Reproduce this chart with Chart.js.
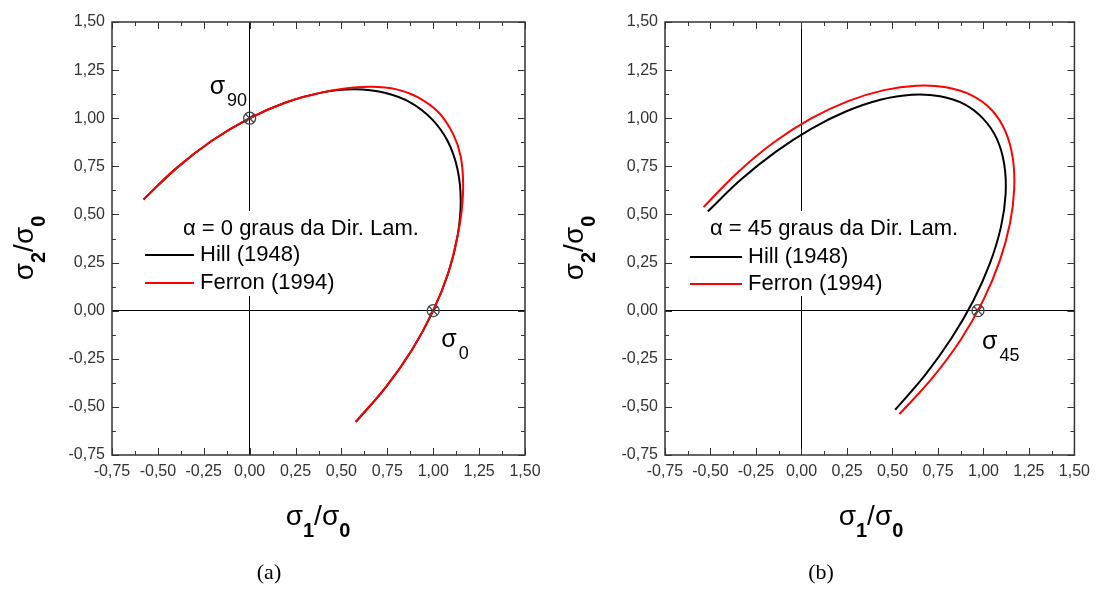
<!DOCTYPE html>
<html lang="pt">
<head>
    <meta charset="UTF-8">
    <title>Superfícies de escoamento - Hill x Ferron</title>
    <script src="https://cdn.jsdelivr.net/npm/chart.js@4.4.0/dist/chart.umd.min.js"></script>
    <style>
        body { margin: 0; background: #fff; }
        .panel { position: absolute; top: 0; }
    </style>
</head>
<body>
    <div class="panel" style="left:0px"><canvas id="chartA" width="549" height="589"></canvas></div>
    <div class="panel" style="left:549px"><canvas id="chartB" width="548" height="589"></canvas></div>

    <script>
        // eixos (mesma escala nos dois graficos)
        const tickValues = [-0.75, -0.5, -0.25, 0, 0.25, 0.5, 0.75, 1, 1.25, 1.5];
        const tickLabels = ['-0,75', '-0,50', '-0,25', '0,00', '0,25', '0,50', '0,75', '1,00', '1,25', '1,50'];

        const seriesNames = ['Hill (1948)', 'Ferron (1994)'];

        // (a) alpha = 0
        const hill0X = [-0.578, -0.397, -0.204, -0.004, 0.196, 0.390, 0.572, 0.736, 0.879, 0.994, 1.080, 1.132, 1.150, 1.133, 1.082, 0.998, 0.884, 0.742, 0.578];
        const hill0Y = [0.578, 0.742, 0.884, 0.998, 1.082, 1.133, 1.150, 1.132, 1.080, 0.994, 0.879, 0.736, 0.572, 0.390, 0.196, -0.004, -0.204, -0.397, -0.578];
        const ferron0X = [-0.578, -0.397, -0.204, -0.004, 0.196, 0.390, 0.520, 0.660, 0.800, 0.915, 1.030, 1.110, 1.150, 1.163, 1.155, 1.133, 1.082, 0.998, 0.884, 0.742, 0.578];
        const ferron0Y = [0.578, 0.742, 0.884, 0.998, 1.082, 1.133, 1.155, 1.163, 1.150, 1.110, 1.030, 0.915, 0.800, 0.660, 0.520, 0.390, 0.196, -0.004, -0.204, -0.397, -0.578];
        const marks0X = [0, 1];
        const marks0Y = [1, 0];

        // (b) alpha = 45
        const hill45X = [-0.515, -0.334, -0.142, 0.053, 0.247, 0.434, 0.607, 0.762, 0.894, 0.998, 1.073, 1.114, 1.122, 1.096, 1.036, 0.945, 0.825, 0.680, 0.515];
        const hill45Y = [0.515, 0.680, 0.825, 0.945, 1.036, 1.096, 1.122, 1.114, 1.073, 0.998, 0.894, 0.762, 0.607, 0.434, 0.247, 0.053, -0.142, -0.334, -0.515];
        const ferron45X = [-0.538, -0.352, -0.151, 0.056, 0.260, 0.454, 0.632, 0.794, 0.933, 1.044, 1.120, 1.161, 1.169, 1.146, 1.090, 1.000, 0.875, 0.717, 0.538];
        const ferron45Y = [0.538, 0.717, 0.875, 1.000, 1.090, 1.146, 1.169, 1.161, 1.120, 1.044, 0.933, 0.794, 0.632, 0.454, 0.260, 0.056, -0.151, -0.352, -0.538];
        const marks45X = [0.97];
        const marks45Y = [0];

        const ff = '"Liberation Sans", Arial, sans-serif';
        Chart.defaults.font.family = ff;

        const pts = (xs, ys) => xs.map((v, i) => ({x: v, y: ys[i]}));

        function partsWidth(ctx, parts) {
            let w = 0;
            parts.forEach(p => { ctx.font = p[1]; w += ctx.measureText(p[0]).width + (p[3] || 0); });
            return w;
        }
        function drawParts(ctx, x, y, parts) {
            let cx = x;
            parts.forEach(p => {
                ctx.font = p[1];
                ctx.fillText(p[0], cx, y + p[2]);
                cx += ctx.measureText(p[0]).width + (p[3] || 0);
            });
        }
        const sigmaRatio = (a, b) => [
            ['σ', '28px ' + ff, 0], [a, 'bold 20px ' + ff, 12],
            ['/', '28px ' + ff, 0],
            ['σ', '28px ' + ff, 0], [b, 'bold 20px ' + ff, 12]
        ];

        const decor = {
            id: 'decor',
            beforeDatasetsDraw(chart, args, o) {
                const ctx = chart.ctx;
                const lg = o.legend;
                ctx.save();
                ctx.fillStyle = '#fff';
                ctx.fillRect(lg.box[0], lg.box[1], lg.box[2], lg.box[3]);
                ctx.fillStyle = '#000';
                ctx.textBaseline = 'middle';
                ctx.font = '22px ' + ff;
                ctx.fillText(lg.title, lg.titleX, lg.titleY);
                [0, 1].forEach(row => {
                    const ds = chart.data.datasets[row];
                    const yy = lg.rows[row];
                    ctx.strokeStyle = ds.borderColor;
                    ctx.lineWidth = 2;
                    ctx.beginPath();
                    ctx.moveTo(lg.line[0], yy);
                    ctx.lineTo(lg.line[1], yy);
                    ctx.stroke();
                    ctx.fillText(ds.label, lg.textX, yy);
                });
                ctx.restore();
            },
            afterDraw(chart, args, o) {
                const {ctx, chartArea: a, scales: {x, y}} = chart;
                ctx.save();
                // moldura
                ctx.strokeStyle = '#333';
                ctx.lineWidth = 1.5;
                ctx.strokeRect(a.left, a.top, a.right - a.left, a.bottom - a.top);
                // tracos para dentro
                const minor = tickValues.slice(0, -1).map((v, i) => (v + tickValues[i + 1]) / 2);
                ctx.lineWidth = 1;
                ctx.beginPath();
                const marks = (vals, len) => vals.forEach(v => {
                    const px = Math.round(x.getPixelForValue(v)) + 0.5;
                    const py = Math.round(y.getPixelForValue(v)) + 0.5;
                    ctx.moveTo(px, a.bottom); ctx.lineTo(px, a.bottom - len);
                    ctx.moveTo(px, a.top); ctx.lineTo(px, a.top + len);
                    ctx.moveTo(a.left, py); ctx.lineTo(a.left + len, py);
                    ctx.moveTo(a.right, py); ctx.lineTo(a.right - len, py);
                });
                marks(tickValues, 7);
                marks(minor, 4);
                ctx.stroke();

                ctx.fillStyle = '#000';
                ctx.textBaseline = 'alphabetic';
                // titulo eixo x
                const xt = sigmaRatio('1', '0');
                drawParts(ctx, o.xTitle[0] - partsWidth(ctx, xt) / 2, o.xTitle[1], xt);
                // titulo eixo y (rotacionado)
                const yt = sigmaRatio('2', '0');
                ctx.save();
                ctx.translate(o.yTitle[0], o.yTitle[1]);
                ctx.rotate(-Math.PI / 2);
                drawParts(ctx, -partsWidth(ctx, yt) / 2, 0, yt);
                ctx.restore();

                // rotulos dos pontos
                o.notes.forEach(n => {
                    const px = x.getPixelForValue(n.at[0]);
                    const py = y.getPixelForValue(n.at[1]);
                    drawParts(ctx, px + n.dx, py + n.dy, [
                        ['σ', '25px ' + ff, 0, 2], [n.sub, '18px ' + ff, 12]
                    ]);
                });

                // legenda (a)/(b)
                ctx.font = '22px "Liberation Serif", "Times New Roman", serif';
                ctx.textAlign = 'center';
                ctx.textBaseline = 'middle';
                ctx.fillText(o.caption, o.captionPos[0], o.captionPos[1]);
                ctx.restore();
            }
        };

        function axis(pos, size) {
            return {
                type: 'linear',
                position: pos,
                min: -0.75,
                max: 1.5,
                afterBuildTicks: s => { s.ticks = tickValues.map(v => ({value: v})); },
                afterFit: s => { if (pos === 'left') s.width = size; else s.height = size; },
                ticks: {
                    color: '#333',
                    font: {family: ff, size: 16},
                    padding: 7,
                    autoSkip: false,
                    maxRotation: 0,
                    callback: (v, i) => tickLabels[i]
                },
                grid: {
                    drawTicks: false,
                    lineWidth: 1,
                    color: c => (c.tick && c.tick.value === 0) ? '#000' : 'rgba(0,0,0,0)'
                },
                border: { display: false }
            };
        }

        function makeChart(id, hx, hy, fx, fy, mx, my, rightPad, leftW, deco) {
            const ctx = document.getElementById(id).getContext('2d');
            const markStyle = {
                showLine: false, pointRadius: 6, pointHoverRadius: 6,
                pointBorderColor: '#444', pointBackgroundColor: 'rgba(0,0,0,0)', pointBorderWidth: 1.3, order: 0
            };
            return new Chart(ctx, {
                type: 'scatter',
                data: {
                    datasets: [
                        {label: seriesNames[0], data: pts(hx, hy), showLine: true, borderColor: '#000000', borderWidth: 2, pointRadius: 0, tension: 0.4, order: 2},
                        {label: seriesNames[1], data: pts(fx, fy), showLine: true, borderColor: '#ff0000', borderWidth: 2, pointRadius: 0, tension: 0.4, order: 1},
                        Object.assign({label: 'o', data: pts(mx, my), pointStyle: 'circle'}, markStyle),
                        Object.assign({label: 'x', data: pts(mx, my), pointStyle: 'crossRot'}, markStyle)
                    ]
                },
                options: {
                    responsive: false,
                    devicePixelRatio: 1,
                    animation: false,
                    events: [],
                    layout: { padding: {left: 0, top: 22, right: rightPad, bottom: 0} },
                    scales: {
                        x: axis('bottom', 134),
                        y: axis('left', leftW)
                    },
                    plugins: {
                        legend: {display: false},
                        tooltip: {enabled: false},
                        decor: deco
                    }
                },
                plugins: [decor]
            });
        }

        makeChart('chartA', hill0X, hill0Y, ferron0X, ferron0Y, marks0X, marks0Y, 24, 112, {
            legend: {title: 'α = 0 graus da Dir. Lam.', box: [135, 211, 300, 85], titleX: 183, titleY: 229, line: [145, 194], textX: 200, rows: [255, 283]},
            xTitle: [318, 525],
            yTitle: [33, 248],
            notes: [
                {at: [marks0X[0], marks0Y[0]], sub: '90', dx: -40, dy: -24},
                {at: [marks0X[1], marks0Y[1]], sub: '0', dx: 8, dy: 36}
            ],
            caption: '(a)',
            captionPos: [269, 573]
        });

        makeChart('chartB', hill45X, hill45Y, ferron45X, ferron45Y, marks45X, marks45Y, 20, 116, {
            legend: {title: 'α = 45 graus da Dir. Lam.', box: [130, 211, 300, 85], titleX: 161, titleY: 229, line: [141, 193], textX: 199, rows: [257, 284]},
            xTitle: [322, 525],
            yTitle: [34, 248],
            notes: [
                {at: [marks45X[0], marks45Y[0]], sub: '45', dx: 4, dy: 38}
            ],
            caption: '(b)',
            captionPos: [272, 573]
        });
    </script>
</body>
</html>
